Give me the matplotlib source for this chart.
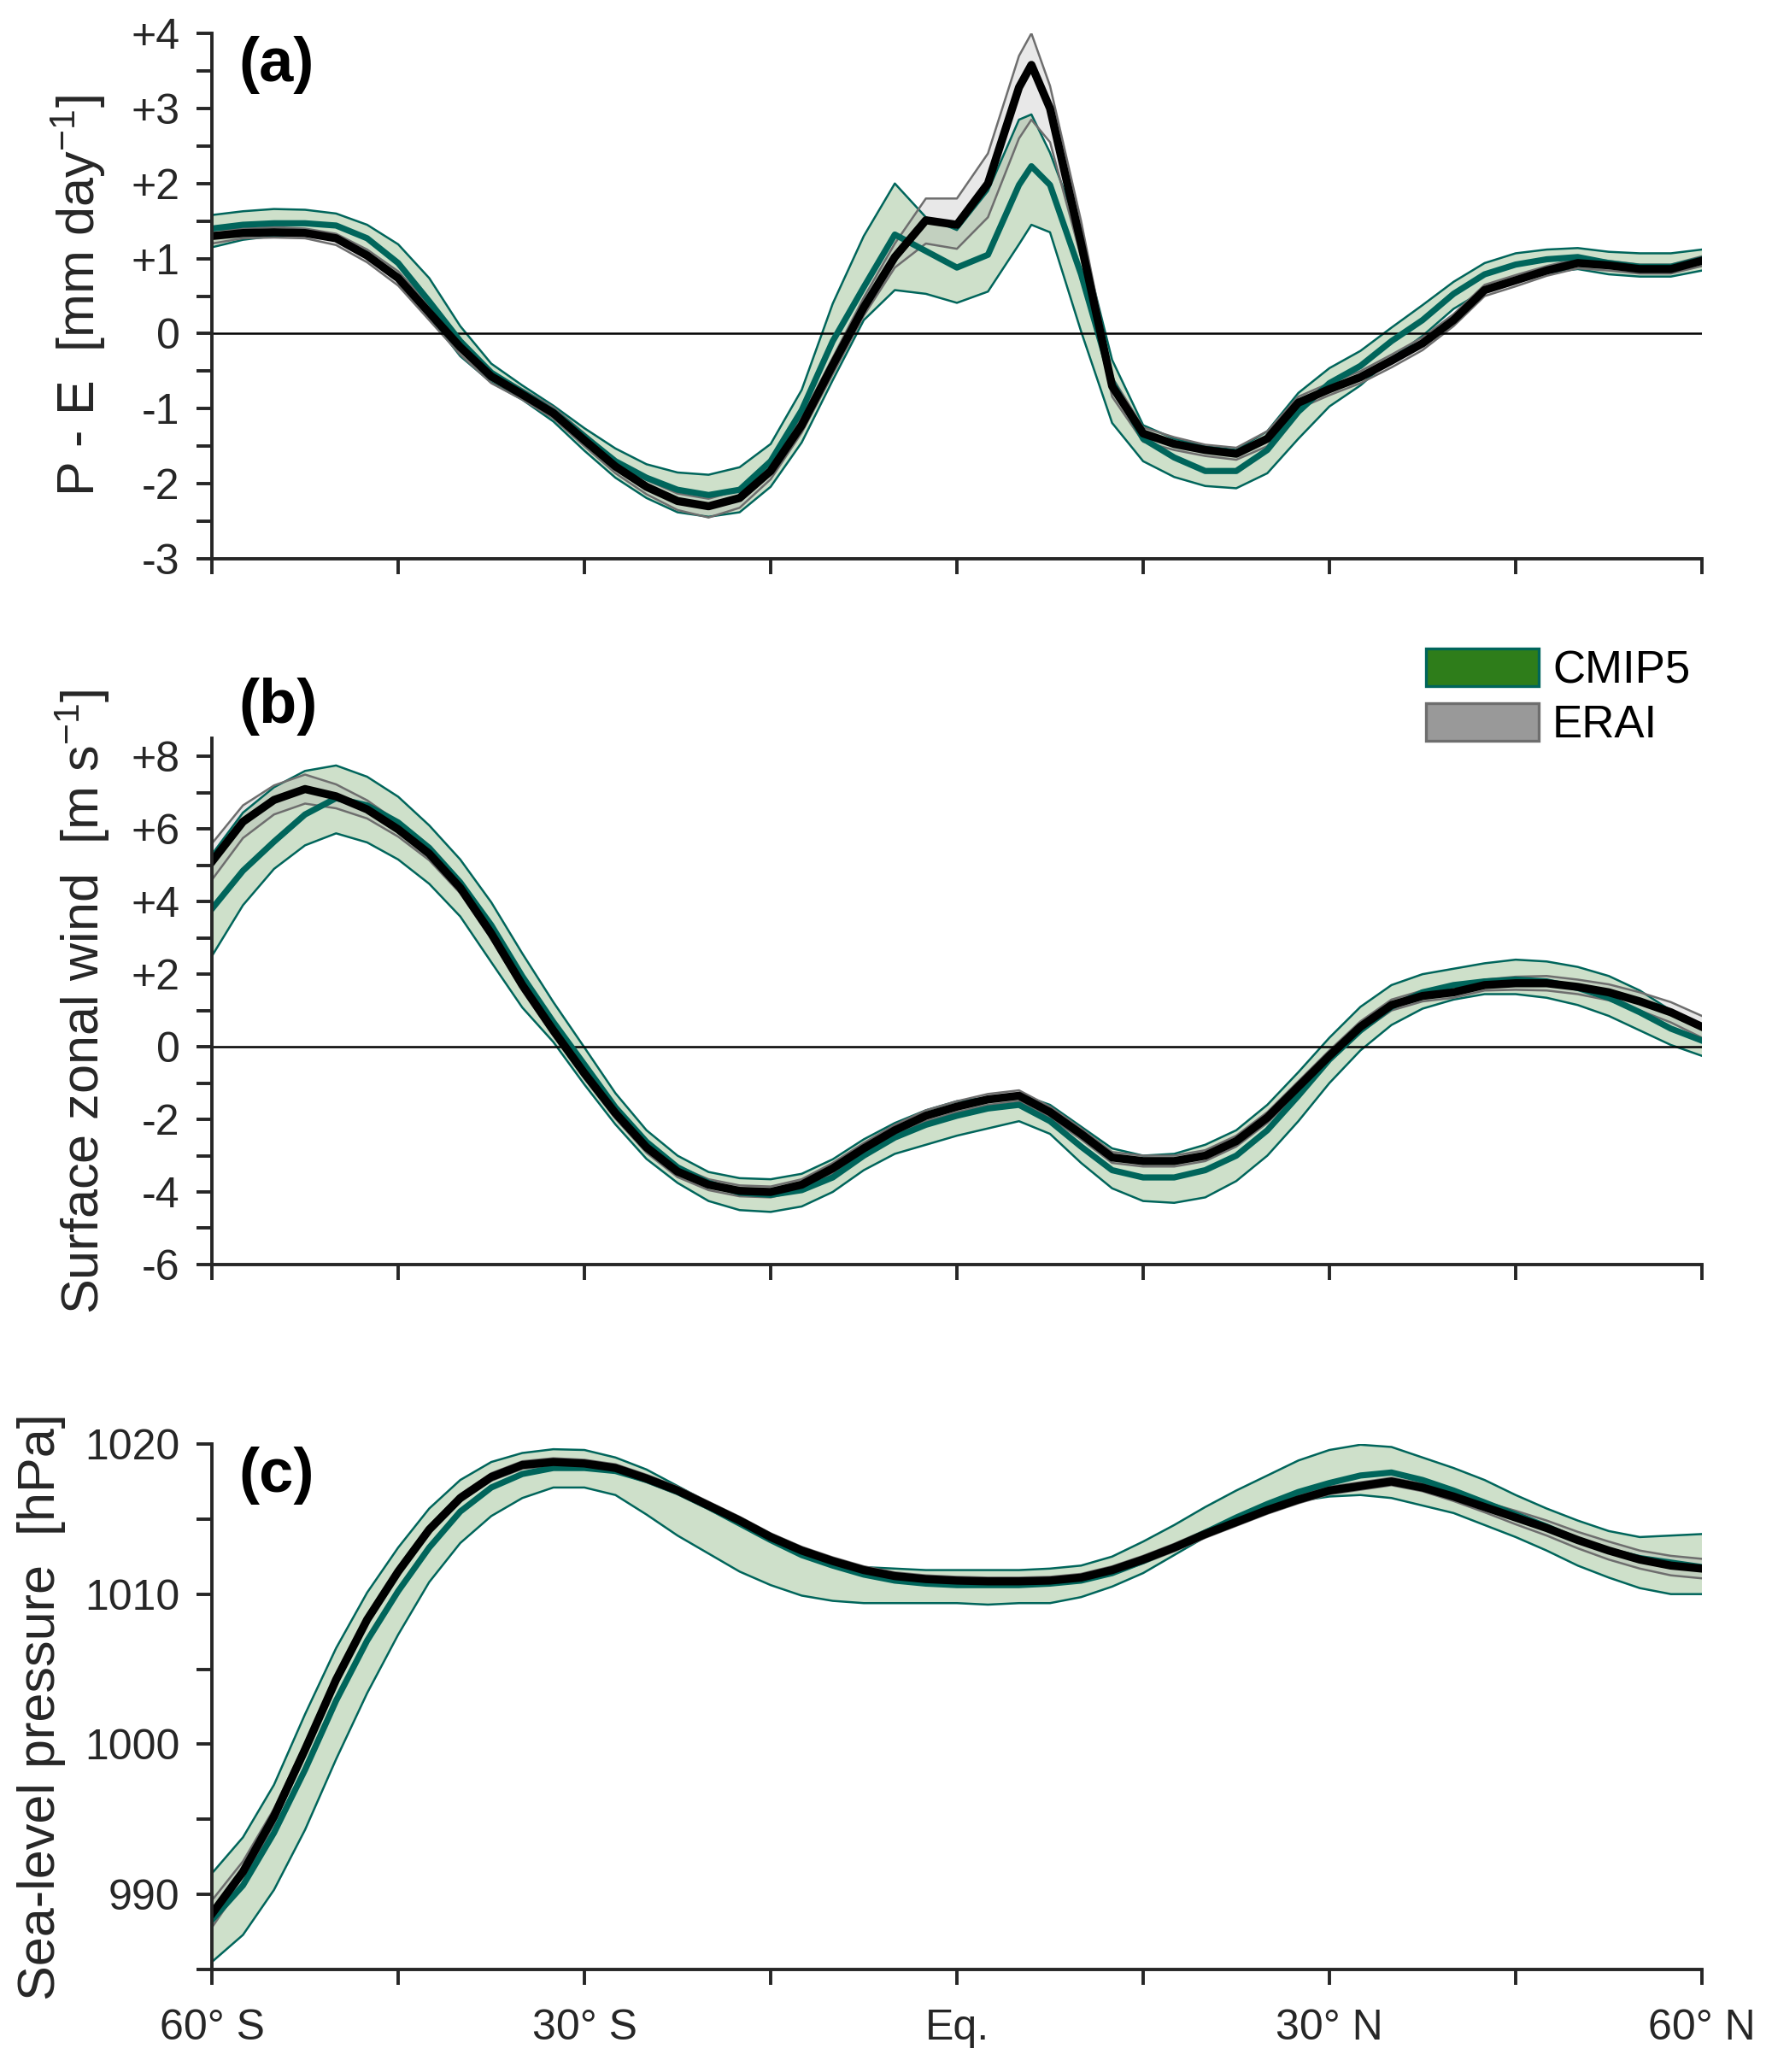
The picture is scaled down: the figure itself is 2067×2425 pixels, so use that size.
import matplotlib
matplotlib.use("Agg")
import matplotlib.pyplot as plt
from matplotlib.patches import Patch
import numpy as np

plt.rcParams["font.family"] = ["Liberation Sans", "DejaVu Sans"]
plt.rcParams["mathtext.fontset"] = "custom"
plt.rcParams["mathtext.rm"] = "Liberation Sans"
plt.rcParams["mathtext.it"] = "Liberation Sans:italic"

# latitude grid (deg, negative = south)
lat = np.array([-60, -57.5, -55, -52.5, -50, -47.5, -45, -42.5, -40, -37.5,
                -35, -32.5, -30, -27.5, -25, -22.5, -20, -17.5, -15, -12.5,
                -10, -7.5, -5, -2.5, 0, 2.5, 5, 7.5, 10, 12.5,
                15, 17.5, 20, 22.5, 25, 27.5, 30, 32.5, 35, 37.5,
                40, 42.5, 45, 47.5, 50, 52.5, 55, 57.5, 60])
# panel (a) has an extra point at the ITCZ peak
lat_a = np.array([-60, -57.5, -55, -52.5, -50, -47.5, -45, -42.5, -40, -37.5,
                  -35, -32.5, -30, -27.5, -25, -22.5, -20, -17.5, -15, -12.5,
                  -10, -7.5, -5, -2.5, 0, 2.5, 5, 6, 7.5, 10,
                  12.5, 15, 17.5, 20, 22.5, 25, 27.5, 30, 32.5, 35,
                  37.5, 40, 42.5, 45, 47.5, 50, 52.5, 55, 57.5, 60])

# (a) P - E [mm/day]
erai_a = [1.30, 1.34, 1.35, 1.34, 1.27, 1.04, 0.74, 0.28, -0.18, -0.57,
          -0.81, -1.06, -1.42, -1.77, -2.04, -2.23, -2.30, -2.19, -1.83, -1.22,
          -0.42, 0.35, 1.02, 1.51, 1.45, 2.00, 3.28, 3.58, 3.00, 1.20,
          -0.70, -1.33, -1.47, -1.55, -1.60, -1.40, -0.92, -0.74, -0.58, -0.36,
          -0.13, 0.18, 0.58, 0.71, 0.84, 0.94, 0.91, 0.86, 0.86, 0.97]
erai_a_lo = [1.20, 1.27, 1.28, 1.27, 1.18, 0.95, 0.64, 0.18, -0.28, -0.66,
             -0.88, -1.13, -1.50, -1.86, -2.14, -2.35, -2.45, -2.32, -1.94, -1.32,
             -0.54, 0.24, 0.88, 1.20, 1.13, 1.55, 2.60, 2.85, 2.55, 1.02,
             -0.84, -1.44, -1.55, -1.63, -1.68, -1.50, -1.00, -0.82, -0.66, -0.45,
             -0.22, 0.10, 0.50, 0.63, 0.77, 0.87, 0.84, 0.80, 0.80, 0.90]
erai_a_hi = [1.38, 1.40, 1.42, 1.40, 1.33, 1.12, 0.83, 0.38, -0.10, -0.50,
             -0.74, -0.98, -1.33, -1.68, -1.95, -2.13, -2.20, -2.08, -1.73, -1.12,
             -0.32, 0.48, 1.20, 1.80, 1.80, 2.40, 3.70, 4.00, 3.30, 1.50,
             -0.58, -1.25, -1.38, -1.48, -1.52, -1.30, -0.84, -0.66, -0.50, -0.28,
             -0.05, 0.26, 0.65, 0.78, 0.90, 1.00, 0.97, 0.92, 0.92, 1.03]
cmip_a = [1.40, 1.45, 1.47, 1.47, 1.44, 1.27, 0.94, 0.43, -0.10, -0.52,
          -0.78, -1.04, -1.37, -1.70, -1.92, -2.08, -2.15, -2.08, -1.70, -1.02,
          -0.10, 0.62, 1.32, 1.10, 0.88, 1.05, 1.98, 2.23, 1.98, 0.79,
          -0.64, -1.40, -1.65, -1.83, -1.83, -1.55, -1.04, -0.66, -0.43, -0.10,
          0.18, 0.53, 0.79, 0.92, 0.99, 1.02, 0.94, 0.89, 0.89, 0.99]
cmip_a_lo = [1.15, 1.25, 1.30, 1.32, 1.27, 1.09, 0.76, 0.23, -0.30, -0.65,
             -0.88, -1.17, -1.56, -1.92, -2.19, -2.38, -2.44, -2.38, -2.04, -1.45,
             -0.62, 0.18, 0.58, 0.53, 0.41, 0.56, 1.19, 1.45, 1.35, 0.03,
             -1.19, -1.70, -1.91, -2.03, -2.06, -1.86, -1.40, -0.97, -0.69, -0.33,
             -0.03, 0.33, 0.58, 0.71, 0.81, 0.86, 0.79, 0.76, 0.76, 0.84]
cmip_a_hi = [1.58, 1.63, 1.66, 1.65, 1.60, 1.45, 1.19, 0.74, 0.10, -0.40,
             -0.69, -0.96, -1.26, -1.53, -1.74, -1.85, -1.88, -1.78, -1.47, -0.75,
             0.40, 1.30, 2.00, 1.55, 1.38, 1.90, 2.85, 2.92, 2.41, 1.30,
             -0.35, -1.22, -1.40, -1.50, -1.55, -1.30, -0.79, -0.46, -0.23, 0.08,
             0.38, 0.69, 0.94, 1.07, 1.12, 1.14, 1.09, 1.07, 1.07, 1.12]

# (b) surface zonal wind [m/s]
erai_b = [5.10, 6.20, 6.80, 7.10, 6.90, 6.54, 5.99, 5.32, 4.38, 3.12,
          1.70, 0.45, -0.73, -1.83, -2.77, -3.44, -3.80, -3.97, -4.00, -3.80,
          -3.35, -2.80, -2.30, -1.90, -1.65, -1.45, -1.35, -1.80, -2.40, -3.05,
          -3.15, -3.15, -3.00, -2.60, -1.95, -1.10, -0.25, 0.55, 1.15, 1.40,
          1.50, 1.70, 1.75, 1.75, 1.65, 1.50, 1.25, 0.95, 0.55]
erai_b_spread = [0.50, 0.45, 0.40, 0.40, 0.33, 0.25, 0.20, 0.18, 0.15, 0.15,
                 0.15, 0.15, 0.15, 0.15, 0.15, 0.15, 0.15, 0.15, 0.15, 0.15,
                 0.15, 0.15, 0.15, 0.15, 0.15, 0.15, 0.15, 0.15, 0.15, 0.15,
                 0.15, 0.15, 0.15, 0.15, 0.15, 0.15, 0.15, 0.15, 0.15, 0.15,
                 0.15, 0.15, 0.18, 0.20, 0.20, 0.22, 0.25, 0.28, 0.30]
cmip_b = [3.80, 4.85, 5.65, 6.40, 6.85, 6.65, 6.18, 5.48, 4.53, 3.35,
          1.94, 0.68, -0.49, -1.67, -2.62, -3.32, -3.75, -4.02, -4.08, -3.95,
          -3.60, -3.00, -2.50, -2.15, -1.90, -1.70, -1.60, -2.05, -2.75, -3.40,
          -3.60, -3.60, -3.40, -3.00, -2.30, -1.35, -0.35, 0.45, 1.10, 1.50,
          1.70, 1.80, 1.85, 1.80, 1.62, 1.35, 0.95, 0.50, 0.17]
cmip_b_lo = [2.50, 3.90, 4.90, 5.55, 5.88, 5.63, 5.16, 4.49, 3.59, 2.33,
             1.08, 0.13, -1.04, -2.14, -3.09, -3.75, -4.25, -4.50, -4.55, -4.40,
             -4.00, -3.40, -2.95, -2.70, -2.45, -2.25, -2.05, -2.40, -3.20, -3.90,
             -4.25, -4.30, -4.15, -3.70, -3.00, -2.05, -1.00, -0.10, 0.60, 1.05,
             1.30, 1.45, 1.45, 1.35, 1.15, 0.85, 0.45, 0.05, -0.25]
cmip_b_hi = [5.30, 6.45, 7.15, 7.60, 7.75, 7.44, 6.89, 6.10, 5.16, 3.98,
             2.57, 1.23, -0.02, -1.28, -2.30, -3.00, -3.45, -3.62, -3.65, -3.50,
             -3.10, -2.55, -2.10, -1.75, -1.50, -1.40, -1.30, -1.60, -2.20, -2.80,
             -3.00, -2.95, -2.70, -2.30, -1.60, -0.70, 0.25, 1.10, 1.70, 2.00,
             2.15, 2.30, 2.40, 2.35, 2.20, 1.95, 1.55, 1.00, 0.50]

# (c) sea-level pressure [hPa]
erai_c = [988.7, 991.5, 995.2, 999.65, 1004.3, 1008.3, 1011.5, 1014.3, 1016.4, 1017.8,
          1018.6, 1018.8, 1018.7, 1018.4, 1017.7, 1016.9, 1015.9, 1014.9, 1013.8, 1012.9,
          1012.2, 1011.6, 1011.2, 1011.0, 1010.9, 1010.85, 1010.85, 1010.9, 1011.1, 1011.6,
          1012.3, 1013.1, 1014.0, 1014.8, 1015.6, 1016.3, 1016.9, 1017.2, 1017.5, 1017.1,
          1016.5, 1015.8, 1015.1, 1014.4, 1013.6, 1012.9, 1012.3, 1011.9, 1011.7]
erai_c_spread = [0.90, 0.70, 0.50, 0.40, 0.35, 0.30, 0.25, 0.25, 0.25, 0.25,
                 0.25, 0.25, 0.25, 0.25, 0.25, 0.25, 0.25, 0.25, 0.25, 0.25,
                 0.25, 0.25, 0.25, 0.25, 0.25, 0.25, 0.25, 0.25, 0.25, 0.25,
                 0.25, 0.25, 0.25, 0.25, 0.25, 0.25, 0.25, 0.25, 0.25, 0.25,
                 0.30, 0.35, 0.45, 0.50, 0.55, 0.60, 0.60, 0.65, 0.65]
cmip_c = [988.3, 990.6, 994.1, 998.3, 1002.9, 1006.9, 1010.2, 1013.1, 1015.5, 1017.1,
          1018.0, 1018.4, 1018.4, 1018.2, 1017.6, 1016.8, 1015.8, 1014.7, 1013.6, 1012.6,
          1011.9, 1011.3, 1010.9, 1010.7, 1010.6, 1010.6, 1010.6, 1010.7, 1010.9, 1011.4,
          1012.2, 1013.1, 1014.1, 1015.1, 1016.0, 1016.8, 1017.4, 1017.9, 1018.1, 1017.6,
          1016.9, 1016.1, 1015.3, 1014.5, 1013.6, 1012.9, 1012.4, 1012.1, 1011.8]
cmip_c_lo = [985.5, 987.3, 990.3, 994.3, 999.0, 1003.4, 1007.3, 1010.8, 1013.4, 1015.2,
             1016.4, 1017.1, 1017.1, 1016.6, 1015.3, 1013.9, 1012.7, 1011.5, 1010.6, 1009.9,
             1009.55, 1009.4, 1009.4, 1009.4, 1009.4, 1009.3, 1009.4, 1009.4, 1009.8, 1010.5,
             1011.4, 1012.6, 1013.8, 1014.8, 1015.6, 1016.2, 1016.5, 1016.6, 1016.4, 1015.9,
             1015.4, 1014.6, 1013.8, 1012.9, 1011.9, 1011.1, 1010.4, 1010.0, 1010.0]
cmip_c_hi = [991.4, 993.8, 997.3, 1002.0, 1006.4, 1010.1, 1013.1, 1015.7, 1017.6, 1018.8,
             1019.4, 1019.65, 1019.6, 1019.1, 1018.3, 1017.2, 1016.1, 1014.8, 1013.6, 1012.6,
             1012.0, 1011.8, 1011.7, 1011.6, 1011.6, 1011.6, 1011.6, 1011.7, 1011.9, 1012.5,
             1013.5, 1014.6, 1015.8, 1016.9, 1017.9, 1018.9, 1019.6, 1019.95, 1019.8, 1019.1,
             1018.4, 1017.6, 1016.6, 1015.7, 1014.9, 1014.2, 1013.8, 1013.9, 1014.0]

xtick_pos = [-60, -45, -30, -15, 0, 15, 30, 45, 60]
xtick_lab = ["60° S", "", "30° S", "", "Eq.", "", "30° N", "", "60° N"]

DARK = "#262626"
CMIP_LINE = "#00655b"
CMIP_FILL = "#2e7d1a"
ERAI_FILL = "#999999"
ERAI_EDGE = "#6e6e6e"


def signed(v):
    if v == 0:
        return "0"
    return f"+{v:g}" if v > 0 else f"-{abs(v):g}"


def draw_panel(ax, x, erai, erai_lo, erai_hi, cmip, cmip_lo, cmip_hi, zero=True):
    ax.fill_between(x, cmip_lo, cmip_hi, facecolor=CMIP_FILL, alpha=0.23, lw=0)
    ax.fill_between(x, erai_lo, erai_hi, facecolor=ERAI_FILL, alpha=0.22, lw=0)
    ax.plot(x, cmip_lo, color=CMIP_LINE, lw=0.9)
    ax.plot(x, cmip_hi, color=CMIP_LINE, lw=0.9)
    ax.plot(x, erai_lo, color=ERAI_EDGE, lw=0.9)
    ax.plot(x, erai_hi, color=ERAI_EDGE, lw=0.9)
    if zero:
        ax.axhline(0, color="black", lw=0.9)
    ax.plot(x, cmip, color=CMIP_LINE, lw=2.6)
    ax.plot(x, erai, color="black", lw=3.4)

    ax.set_xlim(-60, 60)
    ax.set_xticks(xtick_pos)
    ax.set_xticklabels([""] * len(xtick_pos))
    for s in ("top", "right"):
        ax.spines[s].set_visible(False)
    for s in ("left", "bottom"):
        ax.spines[s].set_color(DARK)
        ax.spines[s].set_linewidth(1.4)
    ax.tick_params(direction="out", length=6.5, width=1.4, color=DARK,
                   labelcolor=DARK, labelsize=18, pad=7)


fig = plt.figure(figsize=(10.335, 12.125), dpi=200)
ax_a = fig.add_axes([0.120, 0.7303, 0.8437, 0.2536])
ax_b = fig.add_axes([0.120, 0.3897, 0.8437, 0.2540])
ax_c = fig.add_axes([0.120, 0.0495, 0.8437, 0.2536])

# (a)
draw_panel(ax_a, lat_a, erai_a, erai_a_lo, erai_a_hi, cmip_a, cmip_a_lo, cmip_a_hi)
ax_a.set_ylim(-3, 4)
yt = np.arange(-3, 4.01, 0.5)
ax_a.set_yticks(yt)
ax_a.set_yticklabels([signed(int(v)) if v == int(v) else "" for v in yt])
ax_a.set_ylabel("P - E  [mm day$^{-1}$]", fontsize=22, color=DARK, labelpad=10)
ax_a.text(0.018, 0.995, "(a)", transform=ax_a.transAxes, fontsize=26,
          fontweight="bold", va="top", ha="left")

# (b)
eb = np.array(erai_b)
sb = np.array(erai_b_spread)
draw_panel(ax_b, lat, eb, eb - sb, eb + sb, cmip_b, cmip_b_lo, cmip_b_hi)
ax_b.set_ylim(-6, 8.5)
yt = np.arange(-6, 8.01, 1)
ax_b.set_yticks(yt)
ax_b.set_yticklabels([signed(int(v)) if v % 2 == 0 else "" for v in yt])
ax_b.set_ylabel("Surface zonal wind  [m s$^{-1}$]", fontsize=22, color=DARK, labelpad=8)
ax_b.text(0.018, 1.005, "(b)", transform=ax_b.transAxes, fontsize=26,
          fontweight="bold", va="bottom", ha="left")

handles = [Patch(facecolor=CMIP_FILL, edgecolor=CMIP_LINE, lw=1.2),
           Patch(facecolor=ERAI_FILL, edgecolor=ERAI_EDGE, lw=1.2)]
ax_b.legend(handles, ["CMIP5", "ERAI"], loc="upper left",
            bbox_to_anchor=(0.8075, 0.687), bbox_transform=fig.transFigure,
            frameon=False, fontsize=19, handlelength=2.5, handleheight=0.9,
            handletextpad=0.3, labelspacing=0.25, borderpad=0, borderaxespad=0)

# (c)
ec = np.array(erai_c)
sc = np.array(erai_c_spread)
draw_panel(ax_c, lat, ec, ec - sc, ec + sc, cmip_c, cmip_c_lo, cmip_c_hi, zero=False)
ax_c.set_ylim(985, 1020)
yt = np.arange(985, 1020.1, 5)
ax_c.set_yticks(yt)
ax_c.set_yticklabels([f"{int(v)}" if v % 10 == 0 else "" for v in yt])
ax_c.set_xticklabels(xtick_lab)
ax_c.tick_params(axis="x", pad=10)
ax_c.set_ylabel("Sea-level pressure  [hPa]", fontsize=22, color=DARK, labelpad=8)
ax_c.text(0.018, 0.995, "(c)", transform=ax_c.transAxes, fontsize=26,
          fontweight="bold", va="top", ha="left")

fig.savefig("out.png", dpi=200)
